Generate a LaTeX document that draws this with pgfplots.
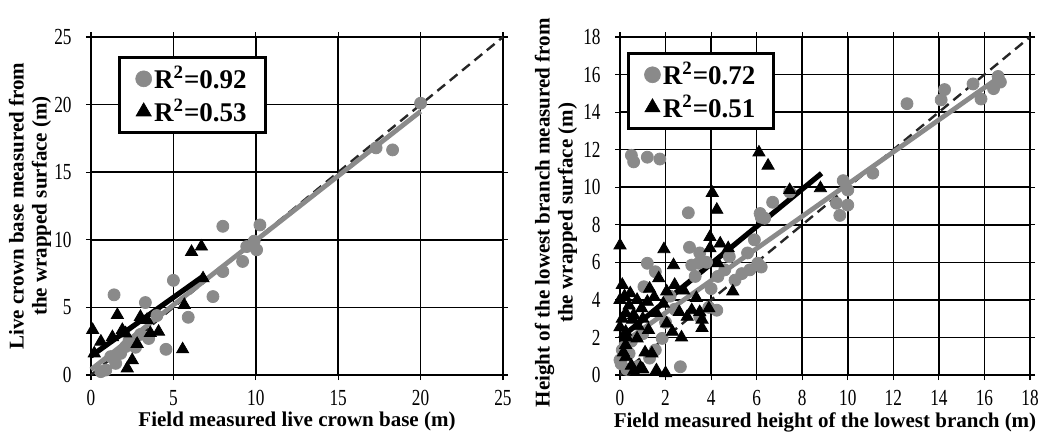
\documentclass[border=0pt]{standalone}
\usepackage{fontspec}
\setmainfont{Liberation Serif}
\usepackage{graphicx}
\usepackage{pgfplots}
\pgfplotsset{compat=1.18}
\definecolor{ptgray}{RGB}{138,138,138}

\pgfplotsset{
  fieldaxis/.style={
    scale only axis, height=169pt,
    clip=false, grid=major, grid style={black, line width=0.75pt},
    axis line style={black, line width=0.75pt},
    tick align=outside, major tick length=2.5pt,
    tick style={black, line width=0.6pt},
    ticklabel style={font=\fontsize{11.5}{13}\selectfont, inner sep=1pt},
    xticklabel={\scalebox{0.75}[1]{\pgfmathprintnumber{\tick}}},
    yticklabel={\scalebox{0.75}[1]{\pgfmathprintnumber{\tick}}},
    xticklabel style={yshift=-4pt},
    yticklabel style={xshift=-6pt},
    /pgf/number format/assume math mode=true,
    label style={font=\bfseries\fontsize{10.5}{11.5}\selectfont, inner sep=1pt},
    xlabel style={at={(axis description cs:0.5,0)}, anchor=north, yshift=-17.5pt},
    legend cell align=left,
    legend style={draw=black, line width=1.5pt,
      font=\bfseries\fontsize{13.5}{14}\selectfont,
      nodes={inner sep=1.2pt},
      anchor=north west, inner xsep=8pt, inner ysep=3pt, row sep=1pt},
  },
  ptcirc/.style={only marks, mark=*, mark size=3pt, ptgray, forget plot},
  pttri/.style={only marks, mark=triangle*, mark size=3.5pt, black, forget plot},
  oneone/.style={black!85, line width=1.2pt, dash pattern=on 5pt off 3pt, forget plot},
  fitgray/.style={ptgray, line width=2.4pt, forget plot},
  fitblack/.style={black, line width=2.6pt, forget plot},
}

\begin{document}
\begin{tikzpicture}
\useasboundingbox (-45.5pt,-30pt) rectangle (475pt,187.5pt);

% left: live crown base
\begin{axis}[fieldaxis,
  width=206pt,
  xmin=0, xmax=25, ymin=0, ymax=25,
  xtick={0,5,...,25}, ytick={0,5,...,25},
  xlabel={Field measured live crown base (m)},
  ylabel={Live crown base measured from\\the wrapped surface (m)},
  ylabel style={at={(axis description cs:-0.148,0.5)}, anchor=center, align=center},
  legend style={at={(0.066,0.944)}},
]
\addplot[ptcirc] coordinates {
  (0.6,0.25) (0.9,0.37) (1.2,1.36) (1.5,0.86) (1.4,5.93) (2.1,2.1)
  (2.7,2.05) (3.5,2.7) (3.3,5.36) (4.55,1.9) (5.0,7.0) (5.9,4.27)
  (7.4,5.8) (8.0,7.65) (9.2,8.4) (9.45,9.5) (10.05,9.26) (8.0,11.0)
  (10.25,11.1) (17.3,16.8) (18.3,16.65) (20.0,20.1) (1.8,1.6) (3.0,3.0)
  (2.3,2.5) (4.0,4.4) (9.9,9.9)};
\addplot[pttri] coordinates {
  (0.1,3.33) (0.2,1.6) (0.6,2.47) (1.3,2.8) (1.6,4.44) (1.9,3.33)
  (2.1,3.08) (2.2,0.49) (2.5,1.1) (3.4,4.07) (3.6,3.1) (4.1,3.2)
  (5.56,1.9) (5.66,5.18) (6.1,9.1) (6.7,9.5) (6.8,7.15) (2.8,2.3)
  (3.0,4.3)};
\addplot[oneone] coordinates {(0,0) (25,25)};
\addplot[fitgray] coordinates {(0,0.4) (20,19.5)};
\addplot[fitblack] coordinates {(0,1.4) (6.8,7.3)};
\addlegendimage{only marks, mark=*, mark size=4pt, ptgray, mark options={line width=0.3pt}}
\addlegendentry{R\textsuperscript{2}=0.92}
\addlegendimage{only marks, mark=triangle*, mark size=4.4pt, black, mark options={line width=0.3pt}}
\addlegendentry{R\textsuperscript{2}=0.53}
\end{axis}

% right: lowest branch
\begin{axis}[fieldaxis,
  at={(264.5pt,0pt)},
  width=205pt,
  xmin=0, xmax=18, ymin=0, ymax=18,
  xtick={0,2,...,18}, ytick={0,2,...,18},
  xlabel={Field measured height of the lowest branch (m)},
  ylabel={Height of the lowest branch measured from\\the wrapped surface (m)},
  ylabel style={at={(axis description cs:-0.156,0.48)}, anchor=center, align=center},
  legend style={at={(0.017,0.956)}},
]
\addplot[ptcirc] coordinates {
  (0.5,11.7) (0.6,11.35) (1.2,11.6) (1.75,11.5) (3.0,8.64)
  (1.2,5.95) (1.55,5.5) (1.05,4.7) (3.15,5.85) (3.3,5.25) (2.65,0.44)
  (1.85,1.95) (1.55,1.33) (0.0,0.8) (0.1,1.33) (0.4,1.15) (0.8,0.45)
  (0.05,0.6) (3.05,6.8) (3.5,6.5) (3.45,5.95) (4.3,5.25) (5.05,5.05)
  (5.35,5.4) (6.05,5.95) (6.2,5.75) (5.7,5.6) (5.9,7.2) (5.6,6.5)
  (6.2,8.4) (6.35,8.35) (6.15,8.6) (6.7,9.2) (7.45,9.75) (4.25,3.45)
  (3.9,3.6) (3.5,3.1) (9.5,9.15) (9.65,8.5) (10.0,9.05) (10.0,9.85)
  (9.8,10.35) (11.1,10.75) (12.6,14.45) (14.1,14.65) (14.25,15.2)
  (15.5,15.5) (15.85,14.7) (16.4,15.25) (16.7,15.6) (16.6,15.9)
  (2.0,2.8) (2.4,3.5) (1.0,2.2) (0.5,1.8) (2.2,4.2) (0.3,0.3) (1.3,0.9)
  (4.0,4.6) (4.6,5.6) (3.8,6.0) (4.8,6.3)};
\addplot[pttri] coordinates {
  (6.1,11.85) (6.5,11.15) (4.05,9.7) (4.25,8.8) (0.0,6.9) (1.93,6.7)
  (3.95,7.35) (7.45,9.85) (8.8,9.95) (4.4,7.0) (3.95,6.75) (4.75,6.75)
  (4.95,4.45) (3.35,4.1) (3.5,3.35) (3.9,3.55) (3.6,2.95) (3.6,2.5)
  (4.3,5.95) (0.1,4.8) (0.45,4.35) (0.0,4.0) (0.75,4.0) (1.2,3.9)
  (1.7,5.15) (2.35,5.85) (2.05,4.45) (1.5,4.15) (0.95,3.55) (0.25,3.3)
  (0.0,2.55) (0.55,2.95) (1.25,2.4) (0.75,1.95) (0.25,1.6) (0.25,0.95)
  (1.4,1.15) (1.1,1.2) (2.05,2.75) (2.6,3.35) (2.95,3.1) (3.15,3.45)
  (2.0,0.1) (0.6,0.2) (0.9,0.4) (0.25,2.3) (0.2,4.2) (0.4,3.7) (0.6,3.2)
  (0.8,2.6) (1.0,3.0) (0.1,3.0) (0.3,2.0) (1.6,3.3) (1.9,3.8) (2.3,2.3)
  (2.7,2.0) (0.5,0.5) (1.0,0.3) (1.6,0.25) (0.15,1.2) (2.4,4.8) (2.8,4.5)
  (1.3,4.6)};
\addplot[oneone] coordinates {(0,0) (18,18)};
\addplot[fitgray] coordinates {(0,1.6) (16.7,15.9)};
\addplot[fitblack] coordinates {(0,1.95) (8.85,10.74)};
\addlegendimage{only marks, mark=*, mark size=4pt, ptgray, mark options={line width=0.3pt}}
\addlegendentry{R\textsuperscript{2}=0.72\hspace{7pt}}
\addlegendimage{only marks, mark=triangle*, mark size=4.4pt, black, mark options={line width=0.3pt}}
\addlegendentry{R\textsuperscript{2}=0.51\hspace{7pt}}
\end{axis}
\end{tikzpicture}
\end{document}
